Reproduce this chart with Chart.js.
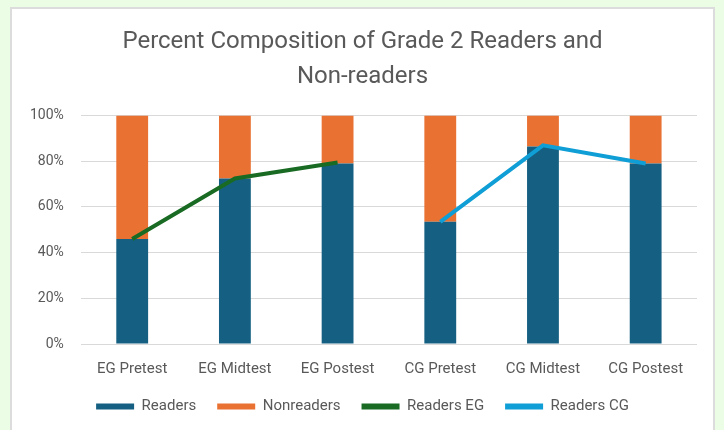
<!DOCTYPE html>
<html>
<head>
<meta charset="utf-8">
<script src="https://cdn.jsdelivr.net/npm/chart.js@4.4.1/dist/chart.umd.min.js"></script>
<style>
  html, body { margin: 0; padding: 0; }
  body { width: 724px; height: 430px; background: #ecfde6; overflow: hidden; position: relative; }
  #panel {
    position: absolute; left: 10px; top: 7px; width: 705px; height: 440px;
    background: #fff; border: 2px solid #dcdcdc; box-sizing: border-box;
  }
  #wrap { position: absolute; left: 0; top: 0; width: 701px; height: 421px; }
</style>
</head>
<body>
<div id="panel"><div id="wrap"><canvas id="chart"></canvas></div></div>
<script>
// categories and values (percent)
const categories = ['EG Pretest', 'EG Midtest', 'EG Postest', 'CG Pretest', 'CG Midtest', 'CG Postest'];
const readers = [46, 72.5, 79, 53.5, 86.5, 79];
const nonreaders = [54, 27.5, 21, 46.5, 13.5, 21];
const readersEG = [46, 72.5, 79.5, null, null, null];
const readersCG = [null, null, null, 53.5, 87, 79];

const textGrey = '#595959';
const fontFamily = 'Roboto, "Liberation Sans", sans-serif';

const ctx = document.getElementById('chart').getContext('2d');

new Chart(ctx, {
    type: 'bar',
    data: {
        labels: categories,
        datasets: [
            {
                label: 'Readers',
                data: readers,
                backgroundColor: '#156082',
                stack: 's',
                barPercentage: 0.62,
                categoryPercentage: 0.5,
                order: 2
            },
            {
                label: 'Nonreaders',
                data: nonreaders,
                backgroundColor: '#e97132',
                stack: 's',
                barPercentage: 0.62,
                categoryPercentage: 0.5,
                order: 2
            },
            {
                type: 'line',
                label: 'Readers EG',
                data: readersEG,
                borderColor: '#196b24',
                backgroundColor: '#196b24',
                borderWidth: 4,
                pointRadius: 0,
                tension: 0,
                order: 1
            },
            {
                type: 'line',
                label: 'Readers CG',
                data: readersCG,
                borderColor: '#0f9ed5',
                backgroundColor: '#0f9ed5',
                borderWidth: 4,
                pointRadius: 0,
                tension: 0,
                order: 1
            }
        ]
    },
    options: {
        responsive: true,
        maintainAspectRatio: false,
        animation: false,
        layout: { padding: { left: 16, right: 16, top: 0, bottom: 6 } },
        plugins: {
            title: {
                display: true,
                text: ['Percent Composition of Grade 2 Readers and', 'Non-readers'],
                color: textGrey,
                font: { family: fontFamily, size: 24, weight: 'normal', lineHeight: 1.45 },
                padding: { top: 16, bottom: 21 }
            },
            legend: {
                position: 'bottom',
                labels: {
                    color: textGrey,
                    font: { family: fontFamily, size: 15 },
                    boxWidth: 38,
                    boxHeight: 6,
                    padding: 21,
                    sort: (a, b) => a.datasetIndex - b.datasetIndex,
                    generateLabels: function (chart) {
                        const items = Chart.defaults.plugins.legend.labels.generateLabels(chart);
                        items.forEach(item => {
                            const ds = chart.data.datasets[item.datasetIndex];
                            item.fillStyle = ds.backgroundColor;
                            item.strokeStyle = ds.backgroundColor;
                            item.lineWidth = 0;
                        });
                        return items;
                    }
                }
            },
            tooltip: { enabled: false }
        },
        scales: {
            x: {
                stacked: true,
                grid: { display: false },
                border: { display: false },
                ticks: {
                    color: textGrey,
                    font: { family: fontFamily, size: 15 },
                    padding: 8,
                    maxRotation: 0
                },
                afterFit: scale => { scale.height = 34; }
            },
            y: {
                stacked: true,
                min: 0,
                max: 100,
                grid: { color: '#d9d9d9', drawTicks: false },
                border: { display: false },
                ticks: {
                    stepSize: 20,
                    color: textGrey,
                    font: { family: fontFamily, size: 14 },
                    padding: 17,
                    callback: v => v + '%'
                },
                afterFit: scale => { scale.width -= 15; }
            }
        }
    }
});
</script>
</body>
</html>
